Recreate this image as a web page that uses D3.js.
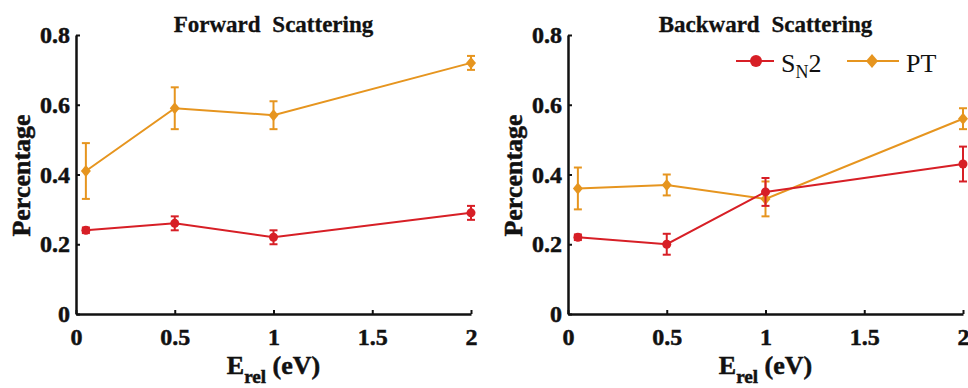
<!DOCTYPE html>
<html>
<head>
<meta charset="utf-8">
<script src="https://cdn.jsdelivr.net/npm/d3@7"></script>
<style>
  html, body { margin: 0; padding: 0; background: #fff; }
  svg { display: block; }
</style>
</head>
<body>
<div id="plot"></div>
<script>
// collision energies (eV)
const energies = [0.05, 0.5, 1, 2];

// forward scattering
const fwdSN2 = [0.24, 0.26, 0.22, 0.29];
const fwdSN2Err = [0.008, 0.02, 0.02, 0.02];
const fwdPT = [0.41, 0.59, 0.57, 0.72];
const fwdPTErr = [0.08, 0.06, 0.04, 0.02];

// backward scattering
const bwdSN2 = [0.22, 0.20, 0.35, 0.43];
const bwdSN2Err = [0.008, 0.03, 0.04, 0.05];
const bwdPT = [0.36, 0.37, 0.33, 0.56];
const bwdPTErr = [0.06, 0.03, 0.05, 0.03];

const xTicks = [0, 0.5, 1, 1.5, 2];
const yTicks = [0, 0.2, 0.4, 0.6, 0.8];

const RED = '#d71f26';
const ORANGE = '#e6951f';
const FONT = '"Liberation Serif", "Times New Roman", serif';

const W = 968, H = 388;
const svg = d3.select('#plot').append('svg')
    .attr('width', W)
    .attr('height', H)
    .attr('font-family', FONT);

// bold labels look heavier in the source, a thin stroke helps
function heavy(sel) {
    return sel.attr('fill', '#111').attr('stroke', '#111').attr('stroke-width', 0.5);
}

function drawPanel({left, right, title, sn2, sn2Err, pt, ptErr}) {
    const x = d3.scaleLinear().domain([0, 2]).range([left, right]);
    const y = d3.scaleLinear().domain([0, 0.8]).range([314, 35]);
    const cx = (left + right) / 2;
    const g = svg.append('g');

    // axes, ticks point inward
    const xAxis = d3.axisBottom(x).tickValues(xTicks).tickSizeInner(-4).tickSizeOuter(0).tickPadding(14)
        .tickFormat(d => d3.format('')(d));
    const yAxis = d3.axisLeft(y).tickValues(yTicks).tickSizeInner(-4).tickSizeOuter(0).tickPadding(6)
        .tickFormat(d => d === 0 ? '0' : d3.format('.1f')(d));

    [g.append('g').attr('transform', `translate(0,${y(0)})`).call(xAxis),
     g.append('g').attr('transform', `translate(${x(0)},0)`).call(yAxis)].forEach(a => {
        a.attr('font-family', FONT);
        a.select('.domain').attr('stroke', '#111').attr('stroke-width', 2.5);
        a.selectAll('.tick line').attr('stroke', '#111').attr('stroke-width', 2);
        heavy(a.selectAll('.tick text'))
            .style('font-family', FONT)
            .style('font-weight', 'bold')
            .style('font-size', '24px');
    });

    // title
    heavy(g.append('text'))
        .attr('x', cx).attr('y', 32)
        .attr('text-anchor', 'middle')
        .style('font-family', FONT).style('font-weight', 'bold').style('font-size', '23px')
        .style('word-spacing', '6px')
        .attr('stroke-width', 0.3)
        .text(title);

    // y label
    heavy(g.append('text'))
        .attr('transform', `translate(${left - 55},${y(0.4) + 1}) rotate(-90)`)
        .attr('text-anchor', 'middle')
        .attr('dominant-baseline', 'central')
        .style('font-family', FONT).style('font-weight', 'bold').style('font-size', '26px')
        .text('Percentage');

    // x label
    const xl = heavy(g.append('text'))
        .attr('x', cx).attr('y', 374)
        .attr('text-anchor', 'middle')
        .style('font-family', FONT).style('font-weight', 'bold').style('font-size', '26px');
    xl.append('tspan').text('E');
    xl.append('tspan').attr('dy', 9).style('font-size', '19px').text('rel');
    xl.append('tspan').attr('dy', -9).text(' (eV)');

    const line = d3.line().x(d => x(d[0])).y(d => y(d[1]));

    function series(vals, errs, color, shape) {
        const pts = energies.map((e, i) => [e, vals[i], errs[i]]);
        const s = g.append('g');
        s.append('path').datum(pts)
            .attr('d', line).attr('fill', 'none')
            .attr('stroke', color).attr('stroke-width', 2);
        const eb = s.selectAll('.eb').data(pts).enter().append('g');
        eb.append('line')
            .attr('x1', d => x(d[0])).attr('x2', d => x(d[0]))
            .attr('y1', d => y(d[1] - d[2])).attr('y2', d => y(d[1] + d[2]))
            .attr('stroke', color).attr('stroke-width', 2);
        [-1, 1].forEach(sg => {
            eb.append('line')
                .attr('x1', d => x(d[0]) - 4).attr('x2', d => x(d[0]) + 4)
                .attr('y1', d => y(d[1] + sg * d[2])).attr('y2', d => y(d[1] + sg * d[2]))
                .attr('stroke', color).attr('stroke-width', 2);
        });
        if (shape === 'circle') {
            s.selectAll('.mk').data(pts).enter().append('circle')
                .attr('cx', d => x(d[0])).attr('cy', d => y(d[1])).attr('r', 4.5)
                .attr('fill', color);
        } else {
            s.selectAll('.mk').data(pts).enter().append('path')
                .attr('d', d => {
                    const px = x(d[0]), py = y(d[1]);
                    return `M${px},${py - 6}L${px + 5},${py}L${px},${py + 6}L${px - 5},${py}Z`;
                })
                .attr('fill', color);
        }
    }

    series(pt, ptErr, ORANGE, 'diamond');
    series(sn2, sn2Err, RED, 'circle');
}

drawPanel({left: 76, right: 471, title: 'Forward Scattering',
    sn2: fwdSN2, sn2Err: fwdSN2Err, pt: fwdPT, ptErr: fwdPTErr});
drawPanel({left: 568, right: 963, title: 'Backward Scattering',
    sn2: bwdSN2, sn2Err: bwdSN2Err, pt: bwdPT, ptErr: bwdPTErr});

// legend
const leg = svg.append('g').style('font-family', FONT).style('font-size', '26px').attr('fill', '#111');
leg.append('line').attr('x1', 736).attr('x2', 774).attr('y1', 61).attr('y2', 61)
    .attr('stroke', RED).attr('stroke-width', 2);
leg.append('circle').attr('cx', 756).attr('cy', 61).attr('r', 6).attr('fill', RED);
const lt = leg.append('text').attr('x', 781).attr('y', 72);
lt.append('tspan').text('S');
lt.append('tspan').attr('dy', 6).style('font-size', '18px').text('N');
lt.append('tspan').attr('dy', -6).text('2');

leg.append('line').attr('x1', 847).attr('x2', 899).attr('y1', 61).attr('y2', 61)
    .attr('stroke', ORANGE).attr('stroke-width', 2);
leg.append('path').attr('d', 'M872,54L878,61L872,68L866,61Z').attr('fill', ORANGE);
leg.append('text').attr('x', 906).attr('y', 72).text('PT');
</script>
</body>
</html>
